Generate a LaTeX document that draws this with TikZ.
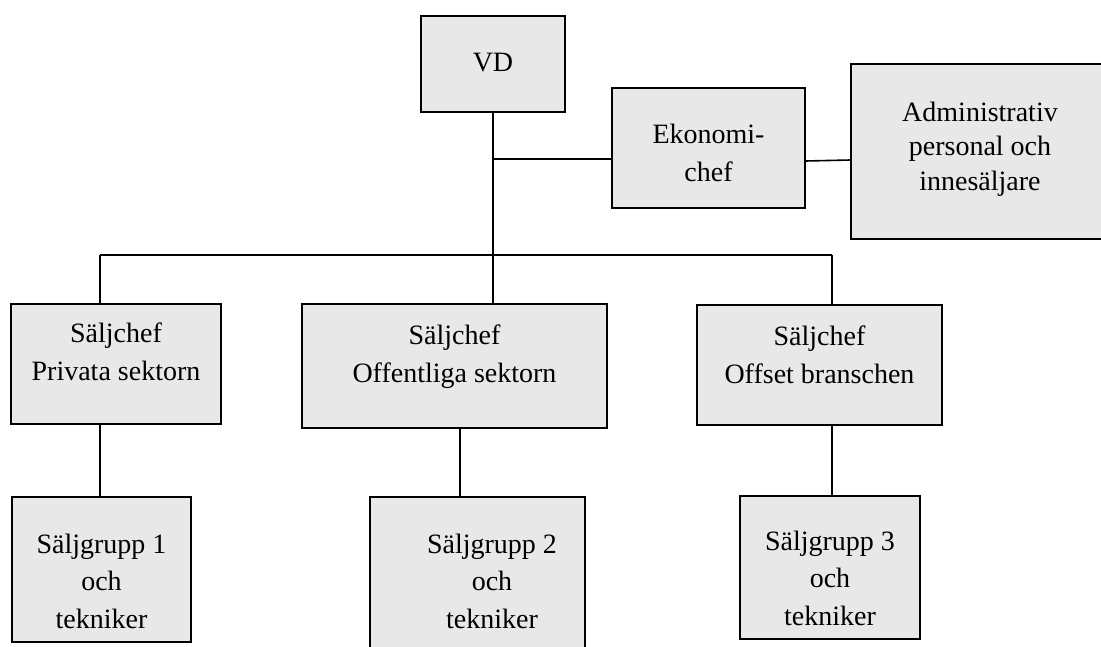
\documentclass[tikz,border=0pt]{standalone}
\usepackage{fontspec}
\setmainfont{Liberation Serif}
\begin{document}
\begin{tikzpicture}[x=1pt,y=-1pt,
  box/.style={draw=black, line width=1.6pt, fill=boxgray, inner sep=0pt},
  txt/.style={align=center, anchor=base, inner sep=0pt, font=\fontsize{28}{37.5}\selectfont},
  conn/.style={draw=black, line width=1.6pt}]
\definecolor{boxgray}{RGB}{232,232,232}
\useasboundingbox (0,0) rectangle (1101,646);
\clip (0,0) rectangle (1101,646);
% boxes
\node[box, minimum width=144pt, minimum height=96pt] (vd) at (493,64) {};
\node[box, minimum width=193pt, minimum height=120pt] (eko) at (708.5,148) {};
\node[box, minimum width=259pt, minimum height=175pt] (adm) at (980.5,151.5) {};
\node[box, minimum width=210pt, minimum height=120pt] (b1) at (116,364) {};
\node[box, minimum width=305pt, minimum height=124pt] (b2) at (454.5,366) {};
\node[box, minimum width=245pt, minimum height=120pt] (b3) at (819.5,365) {};
\node[box, minimum width=179pt, minimum height=145pt] (g1) at (101.5,569.5) {};
\node[box, minimum width=215pt, minimum height=165pt] (g2) at (477.5,579.5) {};
\node[box, minimum width=180pt, minimum height=143pt] (g3) at (830,567.5) {};
% texts (anchor at baseline of the last line)
\node[txt] (vdt) at (493,71) {VD};
\node[txt] (ekot) at (708.5,181) {Ekonomi-\\chef};
\node[txt] (admt) at (980,190) {Administrativ\\[-3pt]personal och\\[-3pt]innesäljare};
\node[txt] (b1t) at (116,380) {Säljchef\\Privata sektorn};
\node[txt] (b2t) at (454.5,382) {Säljchef\\Offentliga sektorn};
\node[txt] (b3t) at (819.5,383) {Säljchef\\Offset branschen};
\node[txt] (g1t) at (101.5,628) {Säljgrupp 1\\och\\tekniker};
\node[txt] (g2t) at (492,628) {Säljgrupp 2\\och\\tekniker};
\node[txt] (g3t) at (830,625) {Säljgrupp 3\\och\\tekniker};
% connectors
\coordinate (j1) at (493,159);
\coordinate (bl) at (100,255);
\coordinate (br) at (832,255);
\draw[conn] (vd.south) -- (vd.south |- b2.north);
\draw[conn] (j1) -- (eko.west |- j1);
\draw[conn] (eko.east |- 0,161) -- (adm.west |- 0,160);
\draw[conn] (bl) -- (br);
\draw[conn] (bl) -- (bl |- b1.north);
\draw[conn] (br) -- (br |- b3.north);
\draw[conn] (b1.south -| bl) -- (g1.north -| bl);
\draw[conn] (b2.south -| 460,0) -- (g2.north -| 460,0);
\draw[conn] (b3.south -| br) -- (g3.north -| br);
\end{tikzpicture}
\end{document}
